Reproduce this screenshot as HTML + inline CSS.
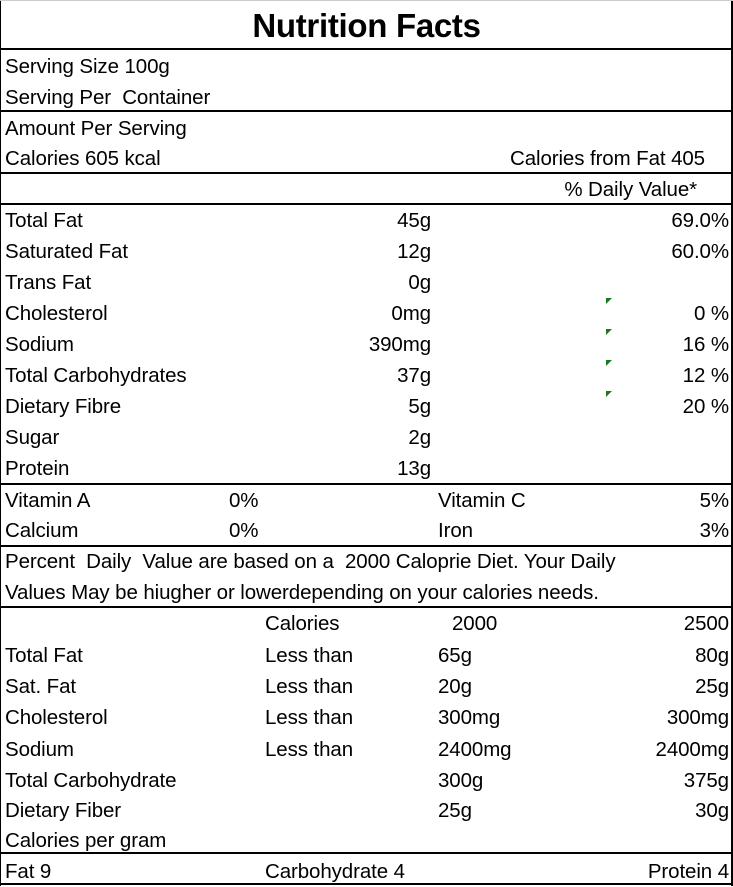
<!DOCTYPE html>
<html><head><meta charset="utf-8"><style>
body{margin:0;width:733px;height:886px;background:#fff;position:relative;overflow:hidden;font-family:"Liberation Sans",sans-serif;color:#000}
.t{position:absolute;font-size:20.5px;line-height:31px;white-space:nowrap;letter-spacing:-0.1px}
.r{text-align:right}
.h{position:absolute;left:0;width:733px;height:2px;background:#000}
.tri{position:absolute;width:0;height:0;border-top:6px solid #1a7a1a;border-right:6px solid transparent}
</style></head><body>
<div style="position:absolute;left:0;top:0;width:1px;height:886px;background:#000"></div>
<div style="position:absolute;left:731px;top:0;width:2px;height:886px;background:#000"></div>
<div style="position:absolute;left:0;top:0;width:733px;height:1px;background:#ccc"></div>
<div style="position:absolute;left:0;top:5px;width:733px;text-align:center;font-weight:bold;font-size:33px;line-height:42px;letter-spacing:-0.3px">Nutrition Facts</div>
<div class="h" style="top:48px"></div>
<div class="h" style="top:110px"></div>
<div class="h" style="top:172px"></div>
<div class="h" style="top:203px"></div>
<div class="h" style="top:483px"></div>
<div class="h" style="top:545px"></div>
<div class="h" style="top:606px"></div>
<div class="h" style="top:852px"></div>
<div class="h" style="top:883px"></div>

<div class="t" style="left:5px;top:51px">Serving Size 100g</div>
<div class="t" style="left:5px;top:82px">Serving Per &nbsp;Container</div>
<div class="t" style="left:5px;top:113px">Amount Per Serving</div>
<div class="t" style="left:5px;top:143px">Calories 605 kcal</div>
<div class="t r" style="right:28px;top:143px">Calories from Fat 405</div>
<div class="t r" style="right:36px;top:174px">% Daily Value*</div>

<div class="t" style="left:5px;top:205px">Total Fat</div>
<div class="t r" style="right:302px;top:205px">45g</div>
<div class="t r" style="right:4px;top:205px">69.0%</div>
<div class="t" style="left:5px;top:236px">Saturated Fat</div>
<div class="t r" style="right:302px;top:236px">12g</div>
<div class="t r" style="right:4px;top:236px">60.0%</div>
<div class="t" style="left:5px;top:267px">Trans Fat</div>
<div class="t r" style="right:302px;top:267px">0g</div>
<div class="t" style="left:5px;top:298px">Cholesterol</div>
<div class="t r" style="right:302px;top:298px">0mg</div>
<div class="t r" style="right:4px;top:298px">0 %</div>
<div class="t" style="left:5px;top:329px">Sodium</div>
<div class="t r" style="right:302px;top:329px">390mg</div>
<div class="t r" style="right:4px;top:329px">16 %</div>
<div class="t" style="left:5px;top:360px">Total Carbohydrates</div>
<div class="t r" style="right:302px;top:360px">37g</div>
<div class="t r" style="right:4px;top:360px">12 %</div>
<div class="t" style="left:5px;top:391px">Dietary Fibre</div>
<div class="t r" style="right:302px;top:391px">5g</div>
<div class="t r" style="right:4px;top:391px">20 %</div>
<div class="t" style="left:5px;top:422px">Sugar</div>
<div class="t r" style="right:302px;top:422px">2g</div>
<div class="t" style="left:5px;top:453px">Protein</div>
<div class="t r" style="right:302px;top:453px">13g</div>

<div class="tri" style="left:606px;top:298px"></div>
<div class="tri" style="left:606px;top:329px"></div>
<div class="tri" style="left:606px;top:360px"></div>
<div class="tri" style="left:606px;top:391px"></div>

<div class="t" style="left:5px;top:485px">Vitamin A</div>
<div class="t" style="left:229px;top:485px">0%</div>
<div class="t" style="left:438px;top:485px">Vitamin C</div>
<div class="t r" style="right:4px;top:485px">5%</div>
<div class="t" style="left:5px;top:515px">Calcium</div>
<div class="t" style="left:229px;top:515px">0%</div>
<div class="t" style="left:438px;top:515px">Iron</div>
<div class="t r" style="right:4px;top:515px">3%</div>

<div class="t" style="left:5px;top:546px">Percent &nbsp;Daily &nbsp;Value are based on a &nbsp;2000 Caloprie Diet. Your Daily</div>
<div class="t" style="left:5px;top:577px">Values May be hiugher or lowerdepending on your calories needs.</div>

<div class="t" style="left:265px;top:608px">Calories</div>
<div class="t" style="left:452px;top:608px">2000</div>
<div class="t r" style="right:4px;top:608px">2500</div>

<div class="t" style="left:5px;top:640px">Total Fat</div>
<div class="t" style="left:265px;top:640px">Less than</div>
<div class="t" style="left:438px;top:640px">65g</div>
<div class="t r" style="right:4px;top:640px">80g</div>
<div class="t" style="left:5px;top:671px">Sat. Fat</div>
<div class="t" style="left:265px;top:671px">Less than</div>
<div class="t" style="left:438px;top:671px">20g</div>
<div class="t r" style="right:4px;top:671px">25g</div>
<div class="t" style="left:5px;top:702px">Cholesterol</div>
<div class="t" style="left:265px;top:702px">Less than</div>
<div class="t" style="left:438px;top:702px">300mg</div>
<div class="t r" style="right:4px;top:702px">300mg</div>
<div class="t" style="left:5px;top:734px">Sodium</div>
<div class="t" style="left:265px;top:734px">Less than</div>
<div class="t" style="left:438px;top:734px">2400mg</div>
<div class="t r" style="right:4px;top:734px">2400mg</div>
<div class="t" style="left:5px;top:765px">Total Carbohydrate</div>
<div class="t" style="left:438px;top:765px">300g</div>
<div class="t r" style="right:4px;top:765px">375g</div>
<div class="t" style="left:5px;top:795px">Dietary Fiber</div>
<div class="t" style="left:438px;top:795px">25g</div>
<div class="t r" style="right:4px;top:795px">30g</div>
<div class="t" style="left:5px;top:825px">Calories per gram</div>

<div class="t" style="left:5px;top:856px">Fat 9</div>
<div class="t" style="left:265px;top:856px">Carbohydrate 4</div>
<div class="t r" style="right:4px;top:856px">Protein 4</div>
</body></html>
